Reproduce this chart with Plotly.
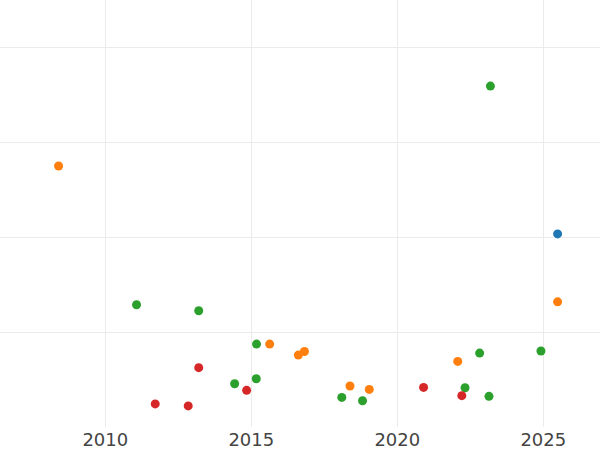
import plotly.graph_objects as go

green_x = [2011.07, 2013.20, 2015.18, 2014.43, 2015.17, 2018.10, 2018.81, 2022.82, 2022.32, 2023.14, 2024.92, 2023.19]
green_y = [1.288, 1.225, 0.874, 0.456, 0.509, 0.312, 0.277, 0.779, 0.414, 0.323, 0.801, 3.593]

orange_x = [2008.40, 2015.63, 2016.61, 2016.82, 2018.38, 2019.04, 2022.07, 2025.49]
orange_y = [2.751, 0.874, 0.758, 0.796, 0.432, 0.396, 0.691, 1.319]

red_x = [2013.20, 2014.84, 2011.71, 2012.84, 2020.90, 2022.21]
red_y = [0.625, 0.386, 0.243, 0.222, 0.417, 0.330]

blue_x = [2025.49]
blue_y = [2.035]

x_ticks = [2010, 2015, 2020, 2025]
y_grid = [1, 2, 3, 4]

fig = go.Figure()
for xs, ys, col in [(green_x, green_y, "#2ca02c"), (orange_x, orange_y, "#ff7f0e"),
                    (red_x, red_y, "#d62728"), (blue_x, blue_y, "#1f77b4")]:
    fig.add_trace(go.Scatter(x=xs, y=ys, mode="markers",
                             marker=dict(color=col, size=9, line=dict(width=0)),
                             showlegend=False))

fig.update_layout(
    width=600, height=450,
    margin=dict(l=0, r=0, t=0, b=23),
    paper_bgcolor="white", plot_bgcolor="white",
    font=dict(family="DejaVu Sans", size=18, color="#444"),
    xaxis=dict(range=[2006.394, 2026.942], tickvals=x_ticks, ticktext=[str(t) for t in x_ticks],
               showgrid=True, gridcolor="#ebebeb", gridwidth=1, zeroline=False, showline=False,
               ticks="", ticklen=0),
    yaxis=dict(range=[0, 4.5], tickvals=y_grid, showticklabels=False,
               showgrid=True, gridcolor="#ebebeb", gridwidth=1, zeroline=False, showline=False),
)
fig.write_html("out.html", config={"displayModeBar": False},
               post_script="document.body.style.margin='0';document.body.style.overflow='hidden';")
